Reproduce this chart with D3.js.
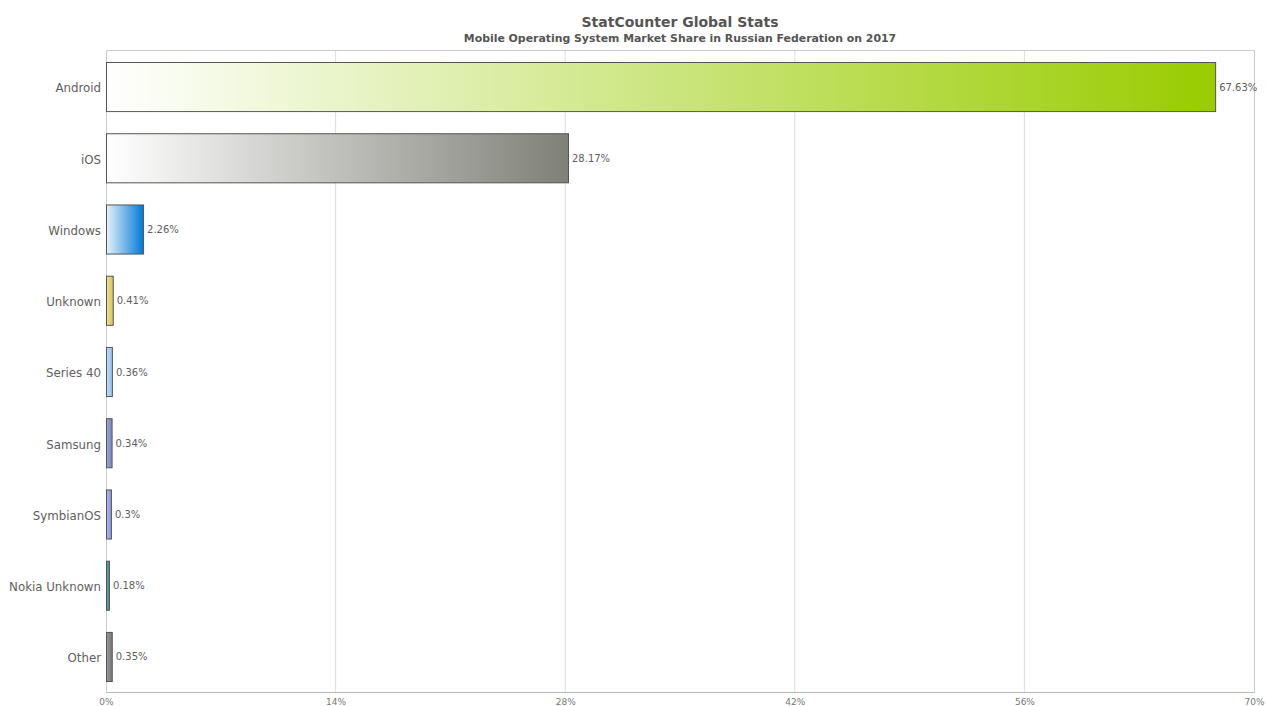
<!DOCTYPE html>
<html>
<head>
<meta charset="utf-8">
<script src="https://cdn.jsdelivr.net/npm/d3@7"></script>
<style>
  body { margin: 0; background: #fff; }
  svg { display: block; font-family: 'DejaVu Sans', sans-serif; }
</style>
</head>
<body>
<div id="chart"></div>
<script>
const categories = ['Android', 'iOS', 'Windows', 'Unknown', 'Series 40', 'Samsung', 'SymbianOS', 'Nokia Unknown', 'Other'];
const shares = [67.63, 28.17, 2.26, 0.41, 0.36, 0.34, 0.3, 0.18, 0.35];
const valueLabels = ['67.63%', '28.17%', '2.26%', '0.41%', '0.36%', '0.34%', '0.3%', '0.18%', '0.35%'];
const startColors = ['#ffffff', '#ffffff', '#e6f2fc', '#f0e090', '#c0dcf4', '#9aa8d8', '#a8b8ec', '#5aa0a8', '#999999'];
const endColors = ['#99cc00', '#7f8178', '#0078d7', '#d8c060', '#90c0ec', '#7888c0', '#8898d8', '#4a8a94', '#777777'];
const xTicks = [0, 14, 28, 42, 56, 70];

const width = 1266, height = 706;
const margin = { top: 50, right: 12, bottom: 14, left: 106 };
const innerW = width - margin.left - margin.right;
const innerH = height - margin.top - margin.bottom;

const svg = d3.select('#chart').append('svg')
  .attr('width', width)
  .attr('height', height);

svg.append('text')
  .attr('x', 680).attr('y', 27)
  .attr('text-anchor', 'middle')
  .attr('font-size', 14).attr('font-weight', 'bold').attr('fill', '#555')
  .text('StatCounter Global Stats');

svg.append('text')
  .attr('x', 680).attr('y', 42)
  .attr('text-anchor', 'middle')
  .attr('font-size', 10.9).attr('font-weight', 'bold').attr('fill', '#555')
  .text('Mobile Operating System Market Share in Russian Federation on 2017');

const defs = svg.append('defs');
categories.forEach((c, i) => {
  const g = defs.append('linearGradient')
    .attr('id', 'grad' + i)
    .attr('x1', '0%').attr('x2', '100%').attr('y1', '0%').attr('y2', '0%');
  g.append('stop').attr('offset', '0%').attr('stop-color', startColors[i]);
  g.append('stop').attr('offset', '100%').attr('stop-color', endColors[i]);
});

const plot = svg.append('g').attr('transform', `translate(${margin.left},${margin.top})`);

const x = d3.scaleLinear().domain([0, 70]).range([0, innerW]);
const y = d3.scaleBand().domain(categories).range([12.5, innerH - 10.5]).paddingInner(0.311).paddingOuter(0);

// grid
plot.selectAll('.grid').data(xTicks.slice(1, -1)).join('line')
  .attr('x1', d => x(d)).attr('x2', d => x(d))
  .attr('y1', 0).attr('y2', innerH)
  .attr('stroke', '#dddddd').attr('stroke-width', 1);

// frame
plot.append('rect')
  .attr('x', 0.5).attr('y', 0.5)
  .attr('width', innerW).attr('height', innerH)
  .attr('fill', 'none').attr('stroke', '#cccccc');

// x axis
const xAxis = plot.append('g')
  .attr('transform', `translate(0,${innerH})`)
  .call(d3.axisBottom(x).tickValues(xTicks).tickFormat(d => d + '%').tickSize(0).tickPadding(7));
xAxis.select('.domain').attr('stroke', '#bbbbbb');
xAxis.selectAll('text').attr('font-size', 9).attr('fill', '#777').attr('font-family', 'DejaVu Sans, sans-serif');

// y axis
const yAxis = plot.append('g')
  .call(d3.axisLeft(y).tickSize(0).tickPadding(5));
yAxis.select('.domain').remove();
yAxis.selectAll('text').attr('font-size', 11.8).attr('fill', '#606060').attr('font-family', 'DejaVu Sans, sans-serif')
  .attr('dy', '0.45em');

// bars
const bars = plot.selectAll('.bar').data(categories).join('g').attr('class', 'bar');
bars.append('rect')
  .attr('x', 0.5)
  .attr('y', d => y(d))
  .attr('width', (d, i) => Math.max(2, x(shares[i])))
  .attr('height', y.bandwidth())
  .attr('fill', (d, i) => `url(#grad${i})`)
  .attr('stroke', '#555')
  .attr('stroke-width', 1);

bars.append('text')
  .attr('x', (d, i) => Math.max(2, x(shares[i])) + 4)
  .attr('y', d => y(d) + y.bandwidth() / 2)
  .attr('dy', '0.35em')
  .attr('font-size', 10)
  .attr('fill', '#606060')
  .text((d, i) => valueLabels[i]);
</script>
</body>
</html>
